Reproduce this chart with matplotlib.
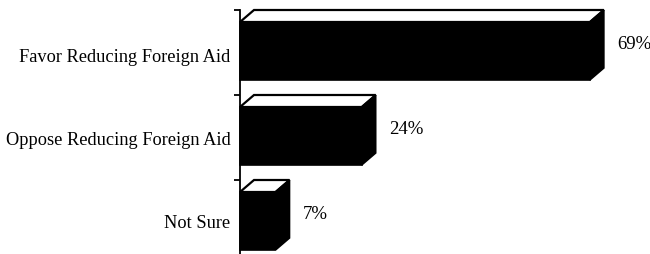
import matplotlib
matplotlib.use("Agg")
import matplotlib.pyplot as plt
from matplotlib.patches import Polygon

categories = ["Favor Reducing Foreign Aid", "Oppose Reducing Foreign Aid", "Not Sure"]
values = [69, 24, 7]
value_labels = ["69%", "24%", "7%"]

W, H = 650, 254
fig = plt.figure(figsize=(W / 100, H / 100), dpi=100)
ax_left_px = 240
ax = fig.add_axes([ax_left_px / W, 0, (W - ax_left_px) / W, 1])

px_per_unit_x = 5.07
slot_px = 85.0
top_px = 10.0
ax.set_xlim(0, (W - ax_left_px) / px_per_unit_x)
ax.set_ylim((H - top_px) / slot_px, -top_px / slot_px)

dx = 14 / px_per_unit_x
dy = 12 / slot_px
front_off = 12 / slot_px
bar_h = 58 / slot_px

for i, v in enumerate(values):
    top = i + front_off
    bot = top + bar_h
    ax.barh(top + bar_h / 2, v, height=bar_h, left=0, color="black",
            edgecolor="black", linewidth=1.2, clip_on=False, zorder=2)
    # top face
    ax.add_patch(Polygon([(0, top), (v, top), (v + dx, top - dy), (dx, top - dy)],
                         closed=True, facecolor="white", edgecolor="black",
                         linewidth=1.6, clip_on=False, zorder=3))
    # side face
    ax.add_patch(Polygon([(v, top), (v + dx, top - dy), (v + dx, bot - dy), (v, bot)],
                         closed=True, facecolor="black", edgecolor="black",
                         linewidth=1.2, clip_on=False, zorder=3))
    ax.text(v + dx + 13 / px_per_unit_x, top + (bar_h - dy) / 2 - 0.01, value_labels[i],
            ha="left", va="center", fontsize=13.5, family="Liberation Serif",
            color="black")

for s in ["top", "right", "bottom"]:
    ax.spines[s].set_visible(False)
ax.spines["left"].set_bounds(0, (H - top_px) / slot_px)
ax.spines["left"].set_linewidth(1.3)
ax.spines["left"].set_zorder(4)

ax.set_xticks([])
ax.set_yticks([0, 1, 2])
ax.set_yticklabels([])
ax.tick_params(axis="y", which="major", length=4, width=1.3, direction="out")
ax.set_yticks([0.53, 1.51, 2.49], minor=True)
ax.set_yticklabels(categories, minor=True, fontsize=13.2, family="Liberation Serif")
ax.tick_params(axis="y", which="minor", length=0, pad=7)
ax.patch.set_alpha(0)

fig.savefig("out.png", dpi=100)
